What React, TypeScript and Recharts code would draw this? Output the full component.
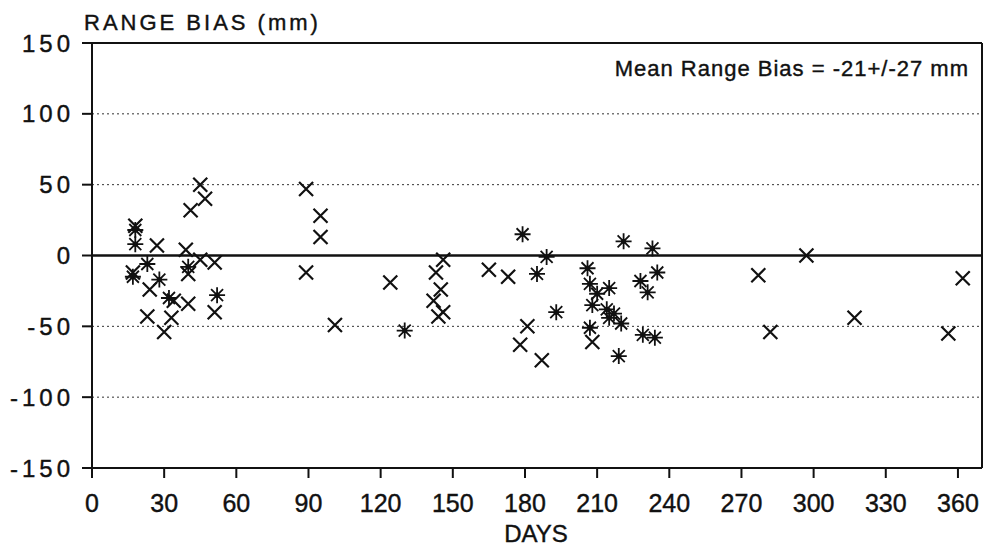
import { ReferenceLine, Scatter, ScatterChart, XAxis, YAxis } from 'recharts';

const dayTicks = [0, 30, 60, 90, 120, 150, 180, 210, 240, 270, 300, 330, 360];
const biasTicks = [-150, -100, -50, 0, 50, 100, 150];
const gridValues = [100, 50, -50, -100];

// x-marked passes
const crossDays = [45, 47, 41, 18, 27, 39, 45, 51, 40, 17, 24, 34, 40, 51, 23, 33, 30, 89, 95, 95, 89, 101, 124, 146, 143, 145, 142, 146, 144, 165, 173, 181, 178, 187, 208, 297, 277, 362, 317, 282, 356];
const crossBias = [50, 40, 32, 21, 7, 4, -3, -5, -13, -12, -24, -32, -34, -40, -43, -44, -54, 47, 28, 13, -12, -49, -19, -3, -12, -24, -32, -40, -43, -10, -15, -50, -63, -74, -61, 0, -14, -16, -44, -54, -55];

// asterisk-marked passes
const starDays = [18, 18, 23, 40, 17, 28, 32, 52, 130, 179, 189, 185, 193, 206, 207, 215, 210, 208, 214, 217, 215, 220, 207, 219, 221, 233, 235, 228, 231, 229, 234];
const starBias = [18, 8, -6, -8, -15, -17, -30, -28, -53, 15, -1, -13, -40, -9, -20, -23, -27, -35, -38, -41, -44, -48, -51, -71, 10, 5, -12, -18, -26, -56, -58];

const crossData = crossDays.map((day, i) => ({ day, bias: crossBias[i] }));
const starData = starDays.map((day, i) => ({ day, bias: starBias[i] }));

const FONT = '"Liberation Sans", Arial, Helvetica, sans-serif';
const INK = '#111';

function Cross(props: any) {
  const { cx, cy } = props;
  const r = 7;
  return (
    <path
      d={`M${cx - r},${cy - r}L${cx + r},${cy + r}M${cx - r},${cy + r}L${cx + r},${cy - r}`}
      stroke={INK}
      strokeWidth={2.2}
      fill="none"
    />
  );
}

function Star(props: any) {
  const { cx, cy } = props;
  const r = 6;
  const s = 8;
  return (
    <g stroke={INK} strokeWidth={1.8} fill="none">
      <path d={`M${cx - r},${cy - r}L${cx + r},${cy + r}M${cx - r},${cy + r}L${cx + r},${cy - r}`} />
      <path d={`M${cx},${cy - s}L${cx},${cy + s}M${cx - s},${cy}L${cx + s},${cy}`} />
      <circle cx={cx} cy={cy} r={1.8} fill={INK} />
    </g>
  );
}

function BiasTick(props: any) {
  const { x, y, payload } = props;
  return (
    <text x={x} y={y} dy="0.36em" textAnchor="end" fill={INK} stroke={INK} strokeWidth={0.4} fontSize={24} fontFamily={FONT} letterSpacing={4}>
      {payload.value}
    </text>
  );
}

function DayTick(props: any) {
  const { x, y, payload } = props;
  return (
    <text x={x} y={y} dy="0.72em" textAnchor="middle" fill={INK} stroke={INK} strokeWidth={0.4} fontSize={25} fontFamily={FONT}>
      {payload.value}
    </text>
  );
}

const label = { position: 'absolute' as const, lineHeight: 1, color: INK, whiteSpace: 'nowrap' as const, WebkitTextStroke: '0.4px #111' };

export default function App() {
  return (
    <div style={{ position: 'absolute', left: 0, top: 0, width: 991, height: 547, background: '#fff', fontFamily: FONT }}>
      <div style={{ ...label, left: 84, top: 12, fontSize: 22, letterSpacing: 3 }}>RANGE BIAS (mm)</div>
      <div style={{ ...label, right: 22, top: 58, fontSize: 22, letterSpacing: 1 }}>Mean Range Bias = -21+/-27 mm</div>
      <div style={{ ...label, left: 536, top: 522, transform: 'translateX(-50%)', fontSize: 24 }}>DAYS</div>
      <ScatterChart width={991} height={547} margin={{ top: 43, right: 9, bottom: 0, left: 0 }}>
        <XAxis
          type="number"
          dataKey="day"
          domain={[0, 370]}
          ticks={dayTicks}
          interval={0}
          height={79}
          tickSize={10}
          tickMargin={16}
          axisLine={{ stroke: INK, strokeWidth: 2 }}
          tickLine={{ stroke: INK, strokeWidth: 2 }}
          tick={<DayTick />}
        />
        <YAxis
          type="number"
          dataKey="bias"
          domain={[-150, 150]}
          ticks={biasTicks}
          interval={0}
          width={92}
          tickSize={10}
          tickMargin={8}
          axisLine={{ stroke: INK, strokeWidth: 2 }}
          tickLine={{ stroke: INK, strokeWidth: 2 }}
          tick={<BiasTick />}
        />
        {gridValues.map((v) => (
          <ReferenceLine key={v} y={v} stroke="#333" strokeWidth={1} strokeDasharray="2 3" />
        ))}
        <ReferenceLine y={0} stroke={INK} strokeWidth={2.5} />
        <ReferenceLine y={150} stroke={INK} strokeWidth={2} />
        <ReferenceLine x={370} stroke={INK} strokeWidth={2} />
        <Scatter data={crossData} shape={<Cross />} isAnimationActive={false} />
        <Scatter data={starData} shape={<Star />} isAnimationActive={false} />
      </ScatterChart>
    </div>
  );
}
